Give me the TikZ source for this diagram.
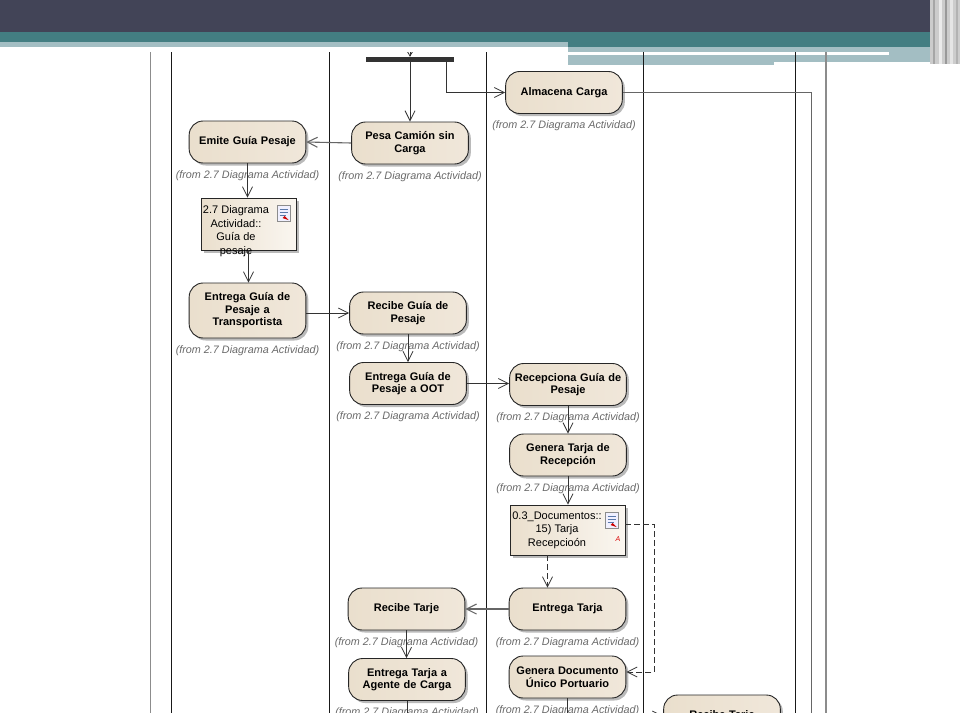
\documentclass[tikz,border=0pt]{standalone}
\usepackage{fontspec}
\setmainfont{Liberation Sans}
\usetikzlibrary{arrows.meta, shapes, positioning, shadows}
\definecolor{color_head}{RGB}{66,68,87}
\definecolor{color_teal}{RGB}{67,126,130}
\definecolor{color_lite}{RGB}{163,190,195}
\definecolor{color_actl}{RGB}{234,223,205}
\definecolor{color_actm}{RGB}{250,246,240}
\definecolor{color_actr}{RGB}{240,231,218}
\definecolor{color_from}{RGB}{105,105,105}
\definecolor{color_icon}{RGB}{90,120,170}

\begin{document}
\begin{tikzpicture}[x=1pt, y=-1pt,
  action/.style={draw=black!85, line width=0.9pt, rounded corners=14pt,
    minimum width=115pt, minimum height=42pt, text width=110pt, align=center,
    left color=color_actl, middle color=color_actm, right color=color_actr,
    drop shadow={shadow xshift=2.5pt, shadow yshift=-2.5pt, fill=black!45, opacity=.6},
    font=\fontsize{11}{12.5}\selectfont\bfseries},
  object/.style={draw=black!85, line width=0.9pt, rectangle,
    minimum width=95pt, minimum height=52pt,
    left color=color_actl, right color=color_actm,
    drop shadow={shadow xshift=2.5pt, shadow yshift=-2.5pt, fill=black!45, opacity=.6}},
  objtext/.style={font=\fontsize{11}{13.5}\selectfont, align=center, inner sep=0pt},
  icon/.style={draw=black!45, fill=blue!6, minimum width=13pt, minimum height=16pt, inner sep=0pt,
    path picture={
      \draw[color_icon, line width=0.7pt]
        ([shift={(2.5pt,-4pt)}]path picture bounding box.north west) -- ++(8pt,0pt)
        ++(-8pt,-3pt) -- ++(8pt,0pt) ++(-8pt,-3pt) -- ++(6pt,0pt);
      \fill[red!80!black] ([shift={(-1.5pt,1.5pt)}]path picture bounding box.south east)
        -- ++(-6pt,2pt) -- ++(2pt,2pt) -- cycle;}},
  from/.style={font=\fontsize{10.8}{12}\selectfont\itshape, text=color_from, inner sep=0pt},
  flow/.style={draw=black!80, line width=0.8pt, -{Straight Barb[length=10pt, width=10pt]}},
  obflow/.style={flow, dash pattern=on 6pt off 3pt},
  lane/.style={line width=1pt, draw=black!90}]

  \useasboundingbox (0,0) rectangle (960,720);

  % CABECERA
  \fill[color_head] (0,0) rectangle (960,32);
  \fill[color_teal] (0,32) rectangle (568,42);
  \fill[color_lite] (0,42) rectangle (568,47);
  \fill[color_teal] (568,32) rectangle (940,47);
  \fill[color_lite] (568,47) rectangle (774,65);
  \fill[color_lite] (774,47) rectangle (940,62);
  \fill[white] (568,52) rectangle (889,55);
  \fill[black!20] (930,0) rectangle (960,64);
  \fill[black!35] (933,0) rectangle (935,64);
  \fill[black!8] (939,0) rectangle (942,64);
  \fill[black!40] (945,0) rectangle (947,64);
  \fill[black!10] (950,0) rectangle (953,64);
  \fill[black!30] (956,0) rectangle (958,64);

  \begin{scope}
  \clip (0,52) rectangle (960,712);

  % CARRILES
  \draw[lane, draw=black!45] (150,52) -- (150,720);
  \foreach \x in {171,329,486,643,795}
    \draw[lane] (\x,52) -- (\x,720);
  \draw[lane, draw=black!45, line width=1.5pt] (826,52) -- (826,720);

  % BIFURCACION
  \node[fill=black!80, minimum width=88pt, minimum height=5pt, inner sep=0pt] (fork) at (410,59.5) {};
  \coordinate (start) at (410,44);

  % ACTIVIDADES
  \node[action] (alm) at (564,92.5) {Almacena Carga};
  \node[action] (emite) at (247.5,142) {Emite Guía Pesaje};
  \node[action] (pesa) at (410,143) {Pesa Camión sin\\Carga};
  \node[action, minimum height=55pt] (entT) at (247.5,310.5) {Entrega Guía de\\Pesaje a\\Transportista};
  \node[action] (recG) at (408,313) {Recibe Guía de\\Pesaje};
  \node[action] (entO) at (408,383.5) {Entrega Guía de\\Pesaje a OOT};
  \node[action] (recp) at (568,384.5) {Recepciona Guía de\\Pesaje};
  \node[action] (genT) at (568,455) {Genera Tarja de\\Recepción};
  \node[action] (recT) at (406.5,609) {Recibe Tarje};
  \node[action] (entTj) at (567.5,609) {Entrega Tarja};
  \node[action] (genD) at (567.5,677) {Genera Documento\\Único Portuario};
  \node[action] (entA) at (407,679.5) {Entrega Tarja a\\Agente de Carga};
  \node[action] (recT2) at (722,716) {Recibe Tarje};

  % OBJETOS
  \node[object] (guia) at (248.5,224) {};
  \node[objtext, anchor=north] (guia-t) at (236,205.5) {2.7 Diagrama\\Actividad::\\Guía de\\pesaje};
  \node[icon] (guia-i) at (283.5,213.5) {};
  \node[object, minimum width=115pt, minimum height=50pt] (tarja) at (567.5,530) {};
  \node[objtext, anchor=north] (tarja-t) at (557,511.5) {0.3\_Documentos::\\15) Tarja\\Recepcioón};
  \node[icon] (tarja-i) at (611.5,520.5) {};
  \node[font=\fontsize{7}{8}\selectfont\itshape, text=red!85!black, inner sep=0pt] (tarja-a) at (618,539) {A};

  % ORIGEN
  \foreach \n in {alm,emite,pesa,entT,recG,entO,recp,genT,recT,entTj,genD,entA}
    \node[from, below=7pt of \n] (\n-f) {(from 2.7 Diagrama Actividad)};

  % FLUJOS
  \draw[flow, -{Straight Barb[length=6pt, width=7pt]}] (start) -- (fork.north);
  \draw[flow] (fork.south) -- (pesa.north);
  \draw[flow] ([xshift=-8pt]fork.south east) |- (alm.west);
  \draw[line width=0.8pt, draw=black!60] (alm.east) -| (811,720);
  \draw[flow, draw=black!60, line width=1.1pt] (pesa.west) -- (emite.east);
  \draw[flow] (emite.south) -- (emite.south |- guia.north);
  \draw[flow] (guia.south) -- (guia.south |- entT.north);
  \draw[flow] (entT.east |- recG.west) -- (recG.west);
  \draw[flow] (recG.south) -- (entO.north);
  \draw[flow] (entO.east) -- (entO.east -| recp.west);
  \draw[flow] (recp.south) -- (genT.north);
  \draw[flow] (genT.south) -- (genT.south |- tarja.north);
  \draw[obflow] ([xshift=-20pt]tarja.south) -- ([xshift=-20pt]entTj.north);
  \draw[obflow] ([yshift=6pt]tarja.east) -- ++(29,0) |- ([yshift=5pt]genD.east);
  \draw[flow, draw=black!60, line width=1.1pt] (entTj.west) -- (recT.east);
  \draw[flow] (recT.south) -- (recT.south |- entA.north);
  \draw[line width=0.8pt, draw=black!80] (entA.south) -- ++(0,30);
  \draw[flow] (genD.south) |- (recT2.west);
  \end{scope}
\end{tikzpicture}
\end{document}
